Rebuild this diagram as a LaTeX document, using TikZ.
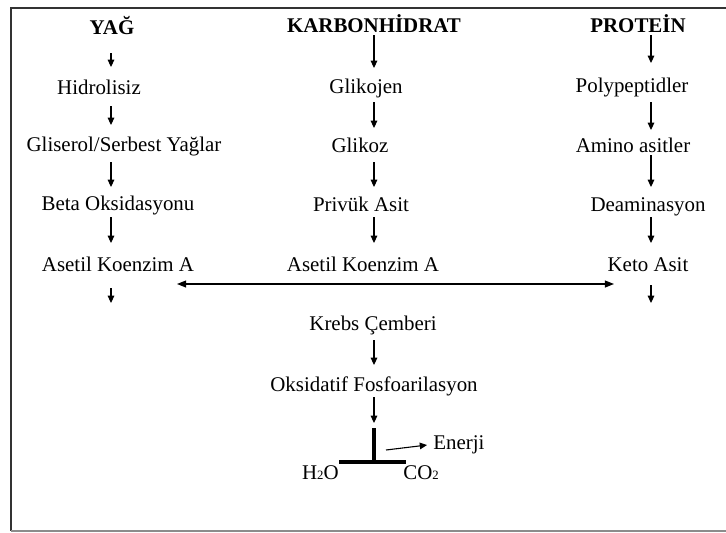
\documentclass[tikz,border=0pt]{standalone}
\usepackage{fontspec}
\setmainfont{Liberation Serif}
\usetikzlibrary{arrows.meta, calc, positioning}
\definecolor{frameGray}{HTML}{8C8C8C}

\begin{document}
\begin{tikzpicture}[x=0.55pt, y=-0.55pt,
      every node/.style={font=\fontsize{11.5}{13}\selectfont, inner sep=0pt},
      head/.style={font=\fontsize{11.5}{13}\selectfont\bfseries},
      arr/.style={-{Triangle[length=4pt, width=3.6pt]}, line width=0.6pt},
      darr/.style={{Triangle[length=5pt, width=3.8pt]}-{Triangle[length=5pt, width=3.8pt]}, line width=0.7pt},
      gap/.style 2 args={shorten <=#1*0.55pt, shorten >=#2*0.55pt}]
   \useasboundingbox (0,0) rectangle (726,532);
   % Frame (right side runs off the page)
   \draw[black!80, line width=0.7pt] (726,8) -- (11,8) -- (11,531);
   \draw[frameGray, line width=0.7pt] (11,531) -- (726,531);
   % Columns of the arrows
   \coordinate (cL) at (111,0);
   \coordinate (cM) at (374,0);
   \coordinate (cR) at (651,0);

   % YAG
   \node[head, anchor=base] (yag) at (112,34) {YAĞ};
   \node[anchor=base] (hidro) at (99,94) {Hidrolisiz};
   \node[anchor=base] (glis) at (124,151) {Gliserol/Serbest Yağlar};
   \node[anchor=base] (beta) at (118,210) {Beta Oksidasyonu};
   \node[anchor=base] (asetL) at (118,271) {Asetil Koenzim A};
   \draw[arr, gap={19}{27}] (yag.base -| cL) -- (hidro.base -| cL);
   \draw[arr, gap={12}{26}] (hidro.base -| cL) -- (glis.base -| cL);
   \draw[arr, gap={11}{23}] (glis.base -| cL) -- (beta.base -| cL);
   \draw[arr, gap={7}{28}] (beta.base -| cL) -- (asetL.base -| cL);
   \coordinate (endL) at (111,303);
   \draw[arr, gap={17}{0}] (asetL.base -| cL) -- (endL);

   % KARBONHIDRAT
   \node[head, anchor=base] (karb) at (374,32) {KARBONHİDRAT};
   \node[anchor=base] (glikojen) at (366,93) {Glikojen};
   \node[anchor=base] (glikoz) at (360,152) {Glikoz};
   \node[anchor=base] (privuk) at (361,211) {Privük Asit};
   \node[anchor=base] (asetM) at (363,271) {Asetil Koenzim A};
   \draw[arr, gap={3}{25}] (karb.base -| cM) -- (glikojen.base -| cM);
   \draw[arr, gap={9}{24}] (glikojen.base -| cM) -- (glikoz.base -| cM);
   \draw[arr, gap={10}{24}] (glikoz.base -| cM) -- (privuk.base -| cM);
   \draw[arr, gap={6}{28}] (privuk.base -| cM) -- (asetM.base -| cM);

   % PROTEIN
   \node[head, anchor=base] (prot) at (638,32) {PROTEİN};
   \node[anchor=base] (poly) at (632,92) {Polypeptidler};
   \node[anchor=base] (amino) at (633,152) {Amino asitler};
   \node[anchor=base] (deam) at (648,211) {Deaminasyon};
   \node[anchor=base] (keto) at (648,271) {Keto Asit};
   \draw[arr, gap={3}{29}] (prot.base -| cR) -- (poly.base -| cR);
   \draw[arr, gap={10}{22}] (poly.base -| cR) -- (amino.base -| cR);
   \draw[arr, gap={3}{24}] (amino.base -| cR) -- (deam.base -| cR);
   \draw[arr, gap={6}{28}] (deam.base -| cR) -- (keto.base -| cR);
   \coordinate (endR) at (651,303);
   \draw[arr, gap={14}{0}] (keto.base -| cR) -- (endR);

   % Asetil Koenzim A <-> Keto Asit
   \draw[darr] ($(asetL.base)+(59,13)$) -- ($(keto.base)+(-34,13)$);

   % Krebs and oxidative phosphorylation
   \node[anchor=base] (krebs) at (373,330) {Krebs Çemberi};
   \node[anchor=base] (oksid) at (374,391) {Oksidatif Fosfoarilasyon};
   \draw[arr, gap={10}{26}] (krebs.base -| cM) -- (oksid.base -| cM);
   % T of the end products
   \coordinate (ttop) at (374,428);
   \coordinate (tfoot) at (374,462);
   \coordinate (tleft) at (339,462);
   \coordinate (tright) at (406,462);
   \draw[arr, gap={6}{5}] (oksid.base -| cM) -- (ttop);
   \draw[line width=2.2pt] (ttop) -- (tfoot);
   \draw[line width=2.2pt] (tleft) -- (tright);
   \node[anchor=base west] (enerji) at (433,449) {Enerji};
   \coordinate (eout) at (386,450);
   \draw[arr, gap={0}{6}] (eout) -- (enerji.west);
   \node[anchor=base east] (h2o) at (339,479) {H{\scriptsize 2}O};
   \node[anchor=base west] (co2) at (403,479) {CO{\scriptsize 2}};
\end{tikzpicture}
\end{document}
